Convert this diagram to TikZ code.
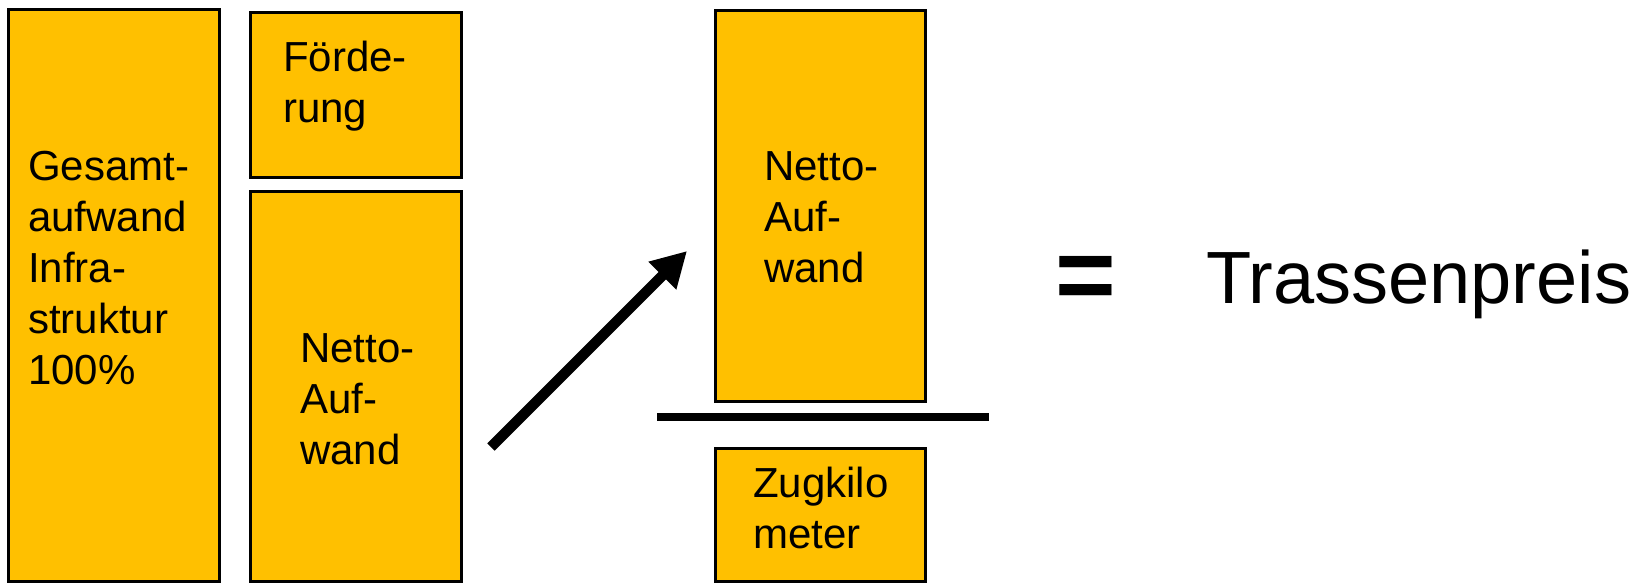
\documentclass[tikz,border=0pt]{standalone}
\usepackage{fontspec}
\setmainfont{Liberation Sans}
\usetikzlibrary{arrows.meta}
\definecolor{amber}{HTML}{FFC000}
\begin{document}
\begin{tikzpicture}[x=1pt,y=-1pt,
  box/.style={draw=black, line width=3pt, fill=amber, inner sep=0pt, anchor=north west},
  txt/.style={anchor=base west, inner sep=0pt, font=\fontsize{42}{51}\selectfont},
  big/.style={anchor=base west, inner sep=0pt, font=\fontsize{74}{80}\selectfont}]
\useasboundingbox (0,0) rectangle (1638,582);
% boxes
\node[box, minimum width=211pt, minimum height=572pt] (b1) at (6.5,7.5) {};
\node[box, minimum width=211pt, minimum height=165pt] (b2) at (248.5,10.5) {};
\node[box, minimum width=211pt, minimum height=390pt] (b3) at (248.5,189.5) {};
\node[box, minimum width=210pt, minimum height=391pt] (b4) at (713.5,8.5) {};
\node[box, minimum width=210pt, minimum height=132.5pt] (b5) at (713.5,447) {};
% texts
\node[txt] (g1) at (28,180) {Gesamt-};
\node[txt] (g2) at (28,231) {aufwand};
\node[txt] (g3) at (28,282) {Infra-};
\node[txt] (g4) at (28,333) {struktur};
\node[txt] (g5) at (28,384) {100\%};
\node[txt] (f1) at (283,71) {Förde-};
\node[txt] (f2) at (283,122) {rung};
\node[txt] (n1) at (300,362) {Netto-};
\node[txt] (n2) at (300,413) {Auf-};
\node[txt] (n3) at (300,464) {wand};
\node[txt] (m1) at (764,180) {Netto-};
\node[txt] (m2) at (764,231) {Auf-};
\node[txt] (m3) at (764,282) {wand};
\node[txt] (z1) at (753,497) {Zugkilo};
\node[txt] (z2) at (753,548) {meter};
% fraction bar
\coordinate (l1) at (657,417);
\coordinate (l2) at (989,417);
\draw[line width=8pt] (l1) -- (l2);
% arrow
\coordinate (as) at (491,447);
\coordinate (ae) at (687,251);
\draw[line width=10.5pt, -{Triangle[length=35pt,width=37pt]}] (as) -- (ae);
% equals and result
\node[anchor=base west, inner sep=0pt, font=\fontsize{104}{110}\selectfont\bfseries] (eq) at (1055,310) {=};
\node[big] (tp) at (1206,303) {Trassenpreis};
\end{tikzpicture}
\end{document}
